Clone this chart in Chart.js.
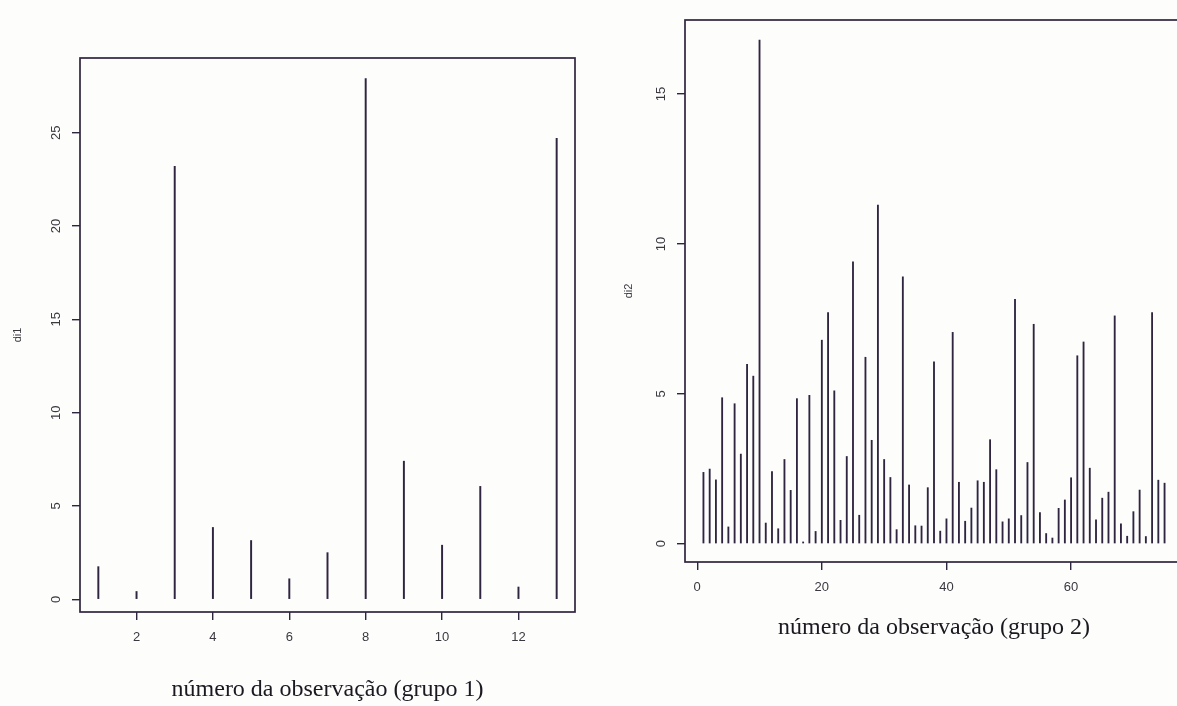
<!DOCTYPE html>
<html>
<head>
<meta charset="utf-8">
<script src="https://cdn.jsdelivr.net/npm/chart.js@4.4.1/dist/chart.umd.min.js"></script>
<style>
  html, body { margin: 0; padding: 0; background: #fdfdfc; overflow: hidden; }
  body { width: 1177px; height: 706px; position: relative; }
  .panel { position: absolute; top: 0; width: 600px; height: 706px; }
  #p1 { left: 0; }
  #p2 { left: 600px; }
</style>
</head>
<body>
<div class="panel" id="p1"><canvas id="grupo1" width="600" height="706"></canvas></div>
<div class="panel" id="p2"><canvas id="grupo2" width="600" height="706"></canvas></div>
<script>
// grupo 1
const obs1 = [1, 2, 3, 4, 5, 6, 7, 8, 9, 10, 11, 12, 13];
const di1 = [1.75, 0.42, 23.2, 3.85, 3.15, 1.1, 2.5, 27.9, 7.4, 2.9, 6.05, 0.66, 24.7];
const xTicks1 = [2, 4, 6, 8, 10, 12];
const yTicks1 = [0, 5, 10, 15, 20, 25];

// grupo 2
const obs2 = [1, 2, 3, 4, 5, 6, 7, 8, 9, 10, 11, 12, 13, 14, 15, 16, 17, 18, 19, 20,
  21, 22, 23, 24, 25, 26, 27, 28, 29, 30, 31, 32, 33, 34, 35, 36, 37, 38, 39, 40,
  41, 42, 43, 44, 45, 46, 47, 48, 49, 50, 51, 52, 53, 54, 55, 56, 57, 58, 59, 60,
  61, 62, 63, 64, 65, 66, 67, 68, 69, 70, 71, 72, 73, 74, 75];
const di2 = [2.38, 2.49, 2.13, 4.87, 0.56, 4.67, 2.99, 5.98, 5.59, 16.8,
  0.69, 2.41, 0.5, 2.81, 1.78, 4.84, 0.06, 4.95, 0.41, 6.79,
  7.71, 5.1, 0.78, 2.91, 9.4, 0.95, 6.22, 3.45, 11.3, 2.81,
  2.21, 0.47, 8.9, 1.96, 0.6, 0.59, 1.87, 6.07, 0.42, 0.83,
  7.05, 2.05, 0.75, 1.19, 2.1, 2.05, 3.47, 2.47, 0.73, 0.83,
  8.15, 0.94, 2.71, 7.32, 1.04, 0.34, 0.19, 1.18, 1.46, 2.2,
  6.27, 6.73, 2.52, 0.8, 1.52, 1.72, 7.6, 0.66, 0.25, 1.07,
  1.79, 0.24, 7.71, 2.12, 2.02];
const xTicks2 = [0, 20, 40, 60];
const yTicks2 = [0, 5, 10, 15];

const ink = '#2f2540';
const tickInk = '#3b3840';
const sansFont = '"Liberation Sans", Arial, sans-serif';
const serifFont = '"Liberation Serif", "Times New Roman", serif';

// R pads each axis range by 4% on both sides
function rRange(v) {
  const lo = Math.min(...v), hi = Math.max(...v), d = (hi - lo) * 0.04;
  return [lo - d, hi + d];
}

// box around the plot region plus vertical y tick labels (R's las = 0)
const rFrame = {
  id: 'rFrame',
  afterDraw(chart) {
    const {ctx, chartArea: a} = chart;
    const y = chart.scales.y;
    ctx.save();
    ctx.strokeStyle = ink;
    ctx.lineWidth = 1.7;
    ctx.strokeRect(a.left, a.top, a.right - a.left, a.bottom - a.top);
    ctx.fillStyle = tickInk;
    ctx.font = '13px ' + sansFont;
    ctx.textAlign = 'center';
    ctx.textBaseline = 'middle';
    y.ticks.forEach(t => {
      ctx.save();
      ctx.translate(a.left - 24, y.getPixelForValue(t.value));
      ctx.rotate(-Math.PI / 2);
      ctx.fillText(String(t.value), 0, 0);
      ctx.restore();
    });
    ctx.restore();
  }
};

function spikePlot(id, xs, ys, xTicks, yTicks, yName, xName, box) {
  const xr = rRange(xs), yr = rRange(ys);
  const tickGrid = {display: true, drawOnChartArea: false, drawTicks: true, tickLength: 8,
    color: ink, lineWidth: 1.4, offset: false};
  return new Chart(document.getElementById(id), {
    type: 'bar',
    data: {
      datasets: [{
        data: xs.map((x, i) => ({x: x, y: ys[i]})),
        backgroundColor: ink,
        borderWidth: 0,
        barThickness: box.bar,
        grouped: false
      }]
    },
    options: {
      responsive: false,
      animation: false,
      events: [],
      layout: {padding: box.padding},
      plugins: {legend: {display: false}, tooltip: {enabled: false}},
      scales: {
        x: {
          type: 'linear',
          min: xr[0], max: xr[1],
          offset: false,
          afterBuildTicks: s => { s.ticks = xTicks.map(v => ({value: v})); },
          afterFit: s => { s.height = box.xHeight; },
          grid: tickGrid,
          border: {display: false},
          ticks: {color: tickInk, font: {family: sansFont, size: 13}, padding: 10, maxRotation: 0},
          title: {display: true, text: xName, color: '#1c1820',
            font: {family: serifFont, size: 24}, padding: 0}
        },
        y: {
          type: 'linear',
          min: yr[0], max: yr[1],
          afterBuildTicks: s => { s.ticks = yTicks.map(v => ({value: v})); },
          afterFit: s => { s.width = box.yWidth; },
          grid: tickGrid,
          border: {display: false},
          ticks: {display: false},
          title: {display: true, text: yName, color: tickInk,
            font: {family: sansFont, size: 11}, padding: {top: box.yTitlePad}}
        }
      }
    },
    plugins: [rFrame]
  });
}

spikePlot('grupo1', obs1, di1, xTicks1, yTicks1, 'di1', 'número da observação (grupo 1)',
  {padding: {top: 58, right: 25, bottom: 2, left: 0}, xHeight: 92, yWidth: 80, yTitlePad: 11, bar: 1.3});

spikePlot('grupo2', obs2, di2, xTicks2, yTicks2, 'di2', 'número da observação (grupo 2)',
  {padding: {top: 20, right: 17, bottom: 64, left: 0}, xHeight: 80, yWidth: 85, yTitlePad: 22, bar: 1.2});
</script>
</body>
</html>
